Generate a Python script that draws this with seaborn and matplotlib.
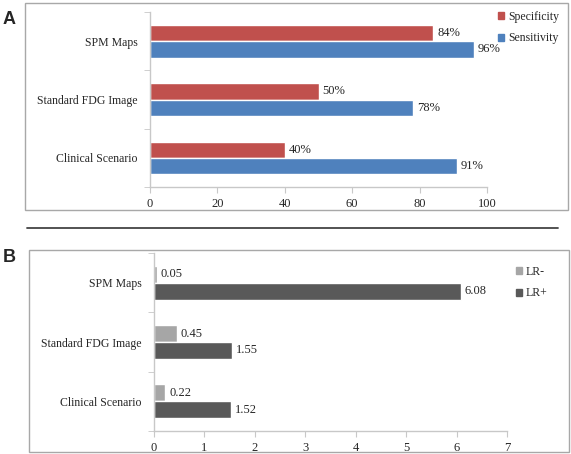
"""
Two-panel diagnostic accuracy chart (sensitivity/specificity and likelihood ratios).
"""

import pandas as pd
import matplotlib
matplotlib.use("Agg")
import matplotlib.pyplot as plt
from matplotlib.patches import Rectangle, Patch
from matplotlib.lines import Line2D
import seaborn as sns

# Data
categories = ["SPM Maps", "Standard FDG Image", "Clinical Scenario"]
specificity = [84, 50, 40]
sensitivity = [96, 78, 91]
lr_neg = [0.05, 0.45, 0.22]
lr_pos = [6.08, 1.55, 1.52]

W, H = 571, 454
SERIF = ["Liberation Serif", "DejaVu Serif"]
SPINE = "#C8C8C8"

sns.set_style("white")
plt.rcParams["font.family"] = SERIF


def long_frame(a, b, name_a, name_b):
    rows = []
    for cat, va, vb in zip(categories, a, b):
        rows.append({"category": cat, "measure": name_a, "value": va})
        rows.append({"category": cat, "measure": name_b, "value": vb})
    return pd.DataFrame(rows)


def px_axes(fig, left, top, right, bottom):
    return fig.add_axes([left / W, 1 - bottom / H, (right - left) / W, (bottom - top) / H])


def style_axes(ax, xmax, xticks):
    ax.set_xlim(0, xmax)
    ax.set_ylim(2.5, -0.5)
    ax.set_xticks(xticks)
    ax.set_yticks([-0.5, 0.5, 1.5, 2.5], minor=True)
    ax.set_xlabel("")
    ax.set_ylabel("")
    for side in ["top", "right"]:
        ax.spines[side].set_visible(False)
    for side in ["left", "bottom"]:
        ax.spines[side].set_color(SPINE)
        ax.spines[side].set_linewidth(1.0)
    ax.tick_params(axis="y", which="major", length=0, pad=9, labelsize=8.5)
    ax.tick_params(axis="y", which="minor", length=4, color=SPINE, direction="out", left=True)
    ax.tick_params(axis="x", which="major", length=4, color=SPINE, direction="out",
                   bottom=True, pad=4, labelsize=9)


def add_legend(ax, colors, x_px, y_px):
    ax.legend(handles=[Patch(color=c, label=k) for k, c in colors.items()],
              loc="upper left", bbox_to_anchor=(x_px / W, 1 - y_px / H),
              bbox_transform=fig.transFigure, frameon=False, fontsize=8.5,
              handlelength=0.55, handleheight=0.55, handletextpad=0.3,
              labelspacing=0.8, borderaxespad=0, borderpad=0)


fig = plt.figure(figsize=(W / 100, H / 100), dpi=100)

# Panel frames and separator line
fig.patches.append(Rectangle((25 / W, 1 - 210 / H), (568 - 25) / W, (210 - 3) / H,
                             transform=fig.transFigure, fill=False, edgecolor="#A8A8A8", lw=1.0))
fig.patches.append(Rectangle((29 / W, 1 - 452 / H), (569 - 29) / W, (452 - 250) / H,
                             transform=fig.transFigure, fill=False, edgecolor="#A8A8A8", lw=1.0))
fig.lines.append(Line2D([27 / W, 558 / W], [1 - 228 / H, 1 - 228 / H],
                        transform=fig.transFigure, color="#444444", lw=1.3))

# Panel A: specificity / sensitivity
ax_a = px_axes(fig, 150, 12, 487, 187)
df_a = long_frame(specificity, sensitivity, "Specificity", "Sensitivity")
colors_a = {"Specificity": "#C0504D", "Sensitivity": "#4F81BD"}
sns.barplot(data=df_a, x="value", y="category", hue="measure", palette=colors_a,
            orient="h", width=0.56, saturation=1, ax=ax_a, legend=False)
style_axes(ax_a, 100, [0, 20, 40, 60, 80, 100])
for cont in ax_a.containers:
    ax_a.bar_label(cont, labels=[f"{v:.0f}%" for v in cont.datavalues], padding=3, fontsize=9)
add_legend(ax_a, colors_a, 498, 11)

# Panel B: likelihood ratios
ax_b = px_axes(fig, 154, 253, 507, 431)
df_b = long_frame(lr_neg, lr_pos, "LR-", "LR+")
colors_b = {"LR-": "#A6A6A6", "LR+": "#595959"}
sns.barplot(data=df_b, x="value", y="category", hue="measure", palette=colors_b,
            orient="h", width=0.57, saturation=1, ax=ax_b, legend=False)
style_axes(ax_b, 7, list(range(8)))
for cont in ax_b.containers:
    ax_b.bar_label(cont, labels=[f"{v:.2f}" for v in cont.datavalues], padding=3, fontsize=9)
add_legend(ax_b, colors_b, 516, 266)

# Panel letters
fig.text(3 / W, 1 - 19 / H, "A", fontsize=13, fontweight="bold",
         family=["Liberation Sans", "DejaVu Sans"], va="center", ha="left")
fig.text(3 / W, 1 - 258 / H, "B", fontsize=13, fontweight="bold",
         family=["Liberation Sans", "DejaVu Sans"], va="center", ha="left")

fig.savefig("out.png", dpi=100, facecolor="white")
plt.close(fig)
